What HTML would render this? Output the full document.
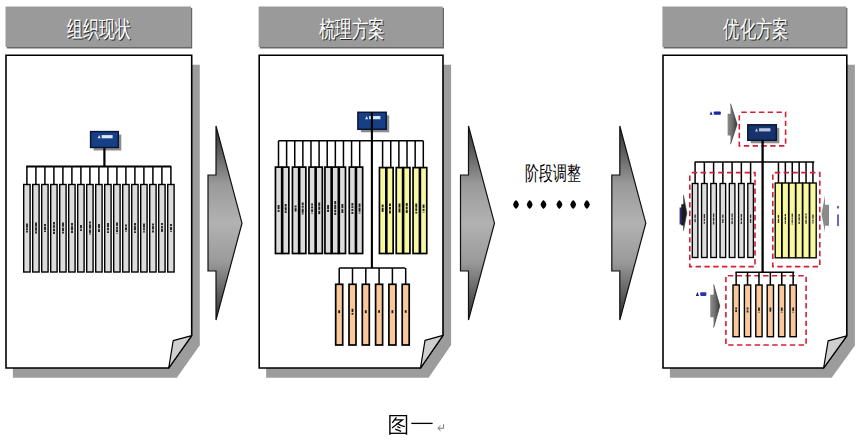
<!DOCTYPE html>
<html><head><meta charset="utf-8"><style>
html,body{margin:0;padding:0;background:#fff;}
body{width:864px;height:442px;overflow:hidden;}
svg{display:block;}
.ht{font-family:"Liberation Sans",sans-serif;font-size:23px;font-weight:500;fill:#fff;}
.ht.sh{fill:#2a2a2a;}
.mt{font-family:"Liberation Sans",sans-serif;font-size:20px;font-weight:500;fill:#000;}
</style></head><body>
<svg width="864" height="442" viewBox="0 0 864 442">
<defs>
<linearGradient id="ag" x1="0" y1="0" x2="0" y2="1">
<stop offset="0" stop-color="#2e2e2e"/><stop offset="0.3" stop-color="#9a9a9a"/><stop offset="0.5" stop-color="#b2b2b2"/><stop offset="0.7" stop-color="#9a9a9a"/><stop offset="1" stop-color="#2e2e2e"/>
</linearGradient>
<linearGradient id="sg" x1="0" y1="0" x2="1" y2="0">
<stop offset="0" stop-color="#8c8c8c"/><stop offset="0.5" stop-color="#6e6e6e"/><stop offset="1" stop-color="#3a3a3a"/>
</linearGradient>
</defs>
<rect x="6.7" y="7.9" width="185.5" height="40.6" fill="#666"/>
<rect x="5.5" y="6.5" width="185.5" height="40.5" fill="#9a9a9a"/>
<text class="ht sh" x="68" y="38.2" textLength="63.5" lengthAdjust="spacingAndGlyphs">组织现状</text>
<text class="ht" x="67" y="37.2" textLength="63.5" lengthAdjust="spacingAndGlyphs">组织现状</text>
<path d="M12.9,64.8 H199.8 V345.2 L176.8,377.7 H12.9 Z" fill="#9c9c9c"/>
<path d="M6,55.2 H191.7 V335.6 L168.7,368 H6 Z" fill="#fff" stroke="#000" stroke-width="1.6"/>
<path d="M168.7,368 L173.2,340.6 L191.7,335.6 Z" fill="#cfcfcf" stroke="#000" stroke-width="1.2" stroke-linejoin="round"/>
<rect x="93.6" y="134.6" width="27.7" height="15.9" fill="#8c8c8c"/>
<rect x="90.6" y="131.6" width="27.7" height="15.9" fill="#173f86" stroke="#0a1636" stroke-width="1.5"/>
<path d="M97.67,138.3 L99.17,135.1 L100.67,138.3 Z" fill="#dbe6f4"/>
<rect x="101.67" y="135.1" width="10.96" height="3.2" fill="#dbe6f4"/>
<line x1="104.4" y1="148" x2="104.4" y2="166.5" stroke="#000" stroke-width="2.2"/>
<line x1="26.3" y1="166.5" x2="171.3" y2="166.5" stroke="#000" stroke-width="1.8"/>
<line x1="26.9" y1="166.5" x2="26.9" y2="184.5" stroke="#000" stroke-width="1.5"/>
<line x1="35.9" y1="166.5" x2="35.9" y2="184.5" stroke="#000" stroke-width="1.5"/>
<line x1="44.9" y1="166.5" x2="44.9" y2="184.5" stroke="#000" stroke-width="1.5"/>
<line x1="53.9" y1="166.5" x2="53.9" y2="184.5" stroke="#000" stroke-width="1.5"/>
<line x1="62.9" y1="166.5" x2="62.9" y2="184.5" stroke="#000" stroke-width="1.5"/>
<line x1="71.9" y1="166.5" x2="71.9" y2="184.5" stroke="#000" stroke-width="1.5"/>
<line x1="80.9" y1="166.5" x2="80.9" y2="184.5" stroke="#000" stroke-width="1.5"/>
<line x1="89.9" y1="166.5" x2="89.9" y2="184.5" stroke="#000" stroke-width="1.5"/>
<line x1="98.9" y1="166.5" x2="98.9" y2="184.5" stroke="#000" stroke-width="1.5"/>
<line x1="107.9" y1="166.5" x2="107.9" y2="184.5" stroke="#000" stroke-width="1.5"/>
<line x1="116.9" y1="166.5" x2="116.9" y2="184.5" stroke="#000" stroke-width="1.5"/>
<line x1="125.9" y1="166.5" x2="125.9" y2="184.5" stroke="#000" stroke-width="1.5"/>
<line x1="134.9" y1="166.5" x2="134.9" y2="184.5" stroke="#000" stroke-width="1.5"/>
<line x1="143.9" y1="166.5" x2="143.9" y2="184.5" stroke="#000" stroke-width="1.5"/>
<line x1="152.9" y1="166.5" x2="152.9" y2="184.5" stroke="#000" stroke-width="1.5"/>
<line x1="161.9" y1="166.5" x2="161.9" y2="184.5" stroke="#000" stroke-width="1.5"/>
<line x1="170.9" y1="166.5" x2="170.9" y2="184.5" stroke="#000" stroke-width="1.5"/>
<rect x="23.7" y="184.5" width="6.4" height="87.5" fill="#dcdcdc" stroke="#000" stroke-width="1.4"/>
<rect x="26.05" y="223.5" width="1.9" height="4.2" fill="#262626"/>
<rect x="26.05" y="228.3" width="1.9" height="2" fill="#262626"/>
<rect x="26.05" y="230.9" width="1.9" height="1.6" fill="#262626"/>
<rect x="32.7" y="184.5" width="6.4" height="87.5" fill="#dcdcdc" stroke="#000" stroke-width="1.4"/>
<rect x="35.05" y="222.5" width="1.9" height="4.2" fill="#262626"/>
<rect x="35.05" y="227.3" width="1.9" height="3.4" fill="#262626"/>
<rect x="35.05" y="231.3" width="1.9" height="2.2" fill="#262626"/>
<rect x="41.7" y="184.5" width="6.4" height="87.5" fill="#dcdcdc" stroke="#000" stroke-width="1.4"/>
<rect x="44.05" y="224" width="1.9" height="2" fill="#262626"/>
<rect x="44.05" y="226.6" width="1.9" height="3.4" fill="#262626"/>
<rect x="44.05" y="230.6" width="1.9" height="1.4" fill="#262626"/>
<rect x="50.7" y="184.5" width="6.4" height="87.5" fill="#dcdcdc" stroke="#000" stroke-width="1.4"/>
<rect x="53.05" y="222" width="1.9" height="2.6" fill="#262626"/>
<rect x="53.05" y="225.2" width="1.9" height="2.6" fill="#262626"/>
<rect x="53.05" y="228.7" width="1.9" height="2.6" fill="#262626"/>
<rect x="53.05" y="231.9" width="1.9" height="2.1" fill="#262626"/>
<rect x="59.7" y="184.5" width="6.4" height="87.5" fill="#dcdcdc" stroke="#000" stroke-width="1.4"/>
<rect x="62.05" y="222.5" width="1.9" height="4.2" fill="#262626"/>
<rect x="62.05" y="227.6" width="1.9" height="3.4" fill="#262626"/>
<rect x="62.05" y="231.6" width="1.9" height="1.9" fill="#262626"/>
<rect x="68.7" y="184.5" width="6.4" height="87.5" fill="#dcdcdc" stroke="#000" stroke-width="1.4"/>
<rect x="71.05" y="223" width="1.9" height="2.6" fill="#262626"/>
<rect x="71.05" y="226.2" width="1.9" height="4.2" fill="#262626"/>
<rect x="71.05" y="231" width="1.9" height="2" fill="#262626"/>
<rect x="77.7" y="184.5" width="6.4" height="87.5" fill="#dcdcdc" stroke="#000" stroke-width="1.4"/>
<rect x="80.05" y="225" width="1.9" height="3.4" fill="#262626"/>
<rect x="80.05" y="229.3" width="1.9" height="1.7" fill="#262626"/>
<rect x="86.7" y="184.5" width="6.4" height="87.5" fill="#dcdcdc" stroke="#000" stroke-width="1.4"/>
<rect x="89.05" y="221.5" width="1.9" height="2" fill="#262626"/>
<rect x="89.05" y="224.4" width="1.9" height="4.2" fill="#262626"/>
<rect x="89.05" y="229.5" width="1.9" height="3.4" fill="#262626"/>
<rect x="89.05" y="233.5" width="1.9" height="1" fill="#262626"/>
<rect x="95.7" y="184.5" width="6.4" height="87.5" fill="#dcdcdc" stroke="#000" stroke-width="1.4"/>
<rect x="98.05" y="224" width="1.9" height="4.2" fill="#262626"/>
<rect x="98.05" y="229.1" width="1.9" height="2.9" fill="#262626"/>
<rect x="104.7" y="184.5" width="6.4" height="87.5" fill="#dcdcdc" stroke="#000" stroke-width="1.4"/>
<rect x="107.05" y="223" width="1.9" height="4.2" fill="#262626"/>
<rect x="107.05" y="227.8" width="1.9" height="2.6" fill="#262626"/>
<rect x="107.05" y="231.3" width="1.9" height="1.7" fill="#262626"/>
<rect x="113.7" y="184.5" width="6.4" height="87.5" fill="#dcdcdc" stroke="#000" stroke-width="1.4"/>
<rect x="116.05" y="222.5" width="1.9" height="3.4" fill="#262626"/>
<rect x="116.05" y="226.8" width="1.9" height="2" fill="#262626"/>
<rect x="116.05" y="229.4" width="1.9" height="2.6" fill="#262626"/>
<rect x="116.05" y="232.9" width="1.9" height="0.6" fill="#262626"/>
<rect x="122.7" y="184.5" width="6.4" height="87.5" fill="#dcdcdc" stroke="#000" stroke-width="1.4"/>
<rect x="125.05" y="224.5" width="1.9" height="2" fill="#262626"/>
<rect x="125.05" y="227.4" width="1.9" height="2.6" fill="#262626"/>
<rect x="125.05" y="230.6" width="1.9" height="0.9" fill="#262626"/>
<rect x="131.7" y="184.5" width="6.4" height="87.5" fill="#dcdcdc" stroke="#000" stroke-width="1.4"/>
<rect x="134.05" y="223" width="1.9" height="2.6" fill="#262626"/>
<rect x="134.05" y="226.2" width="1.9" height="4.2" fill="#262626"/>
<rect x="134.05" y="231.3" width="1.9" height="1.7" fill="#262626"/>
<rect x="140.7" y="184.5" width="6.4" height="87.5" fill="#dcdcdc" stroke="#000" stroke-width="1.4"/>
<rect x="143.05" y="223.5" width="1.9" height="4.2" fill="#262626"/>
<rect x="143.05" y="228.3" width="1.9" height="2" fill="#262626"/>
<rect x="143.05" y="231.2" width="1.9" height="1.3" fill="#262626"/>
<rect x="149.7" y="184.5" width="6.4" height="87.5" fill="#dcdcdc" stroke="#000" stroke-width="1.4"/>
<rect x="152.05" y="223.5" width="1.9" height="2" fill="#262626"/>
<rect x="152.05" y="226.1" width="1.9" height="3.4" fill="#262626"/>
<rect x="152.05" y="230.4" width="1.9" height="2.1" fill="#262626"/>
<rect x="158.7" y="184.5" width="6.4" height="87.5" fill="#dcdcdc" stroke="#000" stroke-width="1.4"/>
<rect x="161.05" y="223" width="1.9" height="2" fill="#262626"/>
<rect x="161.05" y="225.9" width="1.9" height="2" fill="#262626"/>
<rect x="161.05" y="228.5" width="1.9" height="3.4" fill="#262626"/>
<rect x="167.7" y="184.5" width="6.4" height="87.5" fill="#dcdcdc" stroke="#000" stroke-width="1.4"/>
<rect x="170.05" y="224" width="1.9" height="2" fill="#262626"/>
<rect x="170.05" y="226.9" width="1.9" height="3.4" fill="#262626"/>
<rect x="170.05" y="231.2" width="1.9" height="0.8" fill="#262626"/>
<path d="M208,175 H216 V126 L242,223.2 L216,320 V271 H208 Z" fill="url(#ag)" stroke="#111" stroke-width="1.2" stroke-linejoin="miter"/>
<path d="M460.5,175 H468.5 V126 L494.5,223.2 L468.5,320 V271 H460.5 Z" fill="url(#ag)" stroke="#111" stroke-width="1.2" stroke-linejoin="miter"/>
<path d="M611.8,175 H619.8 V126 L645.8,223.2 L619.8,320 V271 H611.8 Z" fill="url(#ag)" stroke="#111" stroke-width="1.2" stroke-linejoin="miter"/>
<rect x="259.8" y="7.9" width="184.2" height="40.6" fill="#666"/>
<rect x="258.6" y="6.5" width="184.2" height="40.5" fill="#9a9a9a"/>
<text class="ht sh" x="319.6" y="38.2" textLength="66" lengthAdjust="spacingAndGlyphs">梳理方案</text>
<text class="ht" x="318.6" y="37.2" textLength="66" lengthAdjust="spacingAndGlyphs">梳理方案</text>
<path d="M266.1,64.8 H451.1 V344.9 L428.6,377.7 H266.1 Z" fill="#9c9c9c"/>
<path d="M259.2,55.2 H443 V335.3 L420.5,368 H259.2 Z" fill="#fff" stroke="#000" stroke-width="1.6"/>
<path d="M420.5,368 L425,340.3 L443,335.3 Z" fill="#cfcfcf" stroke="#000" stroke-width="1.2" stroke-linejoin="round"/>
<rect x="360.9" y="115.3" width="28.3" height="17" fill="#8c8c8c"/>
<rect x="357.9" y="112.3" width="28.3" height="17" fill="#173f86" stroke="#0a1636" stroke-width="1.5"/>
<path d="M365.11,119.24 L366.61,116.04 L368.11,119.24 Z" fill="#dbe6f4"/>
<rect x="369.11" y="116.04" width="11.28" height="3.2" fill="#dbe6f4"/>
<line x1="371.9" y1="112" x2="371.9" y2="268" stroke="#000" stroke-width="2.1"/>
<line x1="278.5" y1="140.8" x2="423.3" y2="140.8" stroke="#000" stroke-width="1.5"/>
<line x1="278.5" y1="140.8" x2="278.5" y2="167.1" stroke="#000" stroke-width="1.5"/>
<line x1="286.62" y1="140.8" x2="286.62" y2="167.1" stroke="#000" stroke-width="1.5"/>
<line x1="294.74" y1="140.8" x2="294.74" y2="167.1" stroke="#000" stroke-width="1.5"/>
<line x1="302.86" y1="140.8" x2="302.86" y2="167.1" stroke="#000" stroke-width="1.5"/>
<line x1="310.98" y1="140.8" x2="310.98" y2="167.1" stroke="#000" stroke-width="1.5"/>
<line x1="319.1" y1="140.8" x2="319.1" y2="167.1" stroke="#000" stroke-width="1.5"/>
<line x1="327.22" y1="140.8" x2="327.22" y2="167.1" stroke="#000" stroke-width="1.5"/>
<line x1="335.34" y1="140.8" x2="335.34" y2="167.1" stroke="#000" stroke-width="1.5"/>
<line x1="343.46" y1="140.8" x2="343.46" y2="167.1" stroke="#000" stroke-width="1.5"/>
<line x1="351.58" y1="140.8" x2="351.58" y2="167.1" stroke="#000" stroke-width="1.5"/>
<line x1="359.7" y1="140.8" x2="359.7" y2="167.1" stroke="#000" stroke-width="1.5"/>
<line x1="382.6" y1="140.8" x2="382.6" y2="167.3" stroke="#000" stroke-width="1.5"/>
<line x1="390.74" y1="140.8" x2="390.74" y2="167.3" stroke="#000" stroke-width="1.5"/>
<line x1="398.88" y1="140.8" x2="398.88" y2="167.3" stroke="#000" stroke-width="1.5"/>
<line x1="407.02" y1="140.8" x2="407.02" y2="167.3" stroke="#000" stroke-width="1.5"/>
<line x1="415.16" y1="140.8" x2="415.16" y2="167.3" stroke="#000" stroke-width="1.5"/>
<line x1="423.3" y1="140.8" x2="423.3" y2="167.3" stroke="#000" stroke-width="1.5"/>
<rect x="275.45" y="167.1" width="6.25" height="86.4" fill="#dcdcdc" stroke="#000" stroke-width="1.7"/>
<rect x="277.62" y="205" width="1.9" height="4.2" fill="#262626"/>
<rect x="277.62" y="210.1" width="1.9" height="1.9" fill="#262626"/>
<rect x="282.6" y="167.1" width="6.25" height="86.4" fill="#dcdcdc" stroke="#000" stroke-width="1.7"/>
<rect x="284.77" y="204" width="1.9" height="2.6" fill="#262626"/>
<rect x="284.77" y="207.2" width="1.9" height="3.4" fill="#262626"/>
<rect x="284.77" y="211.2" width="1.9" height="1.8" fill="#262626"/>
<rect x="292.45" y="167.1" width="6.25" height="86.4" fill="#dcdcdc" stroke="#000" stroke-width="1.7"/>
<rect x="294.62" y="205.5" width="1.9" height="2" fill="#262626"/>
<rect x="294.62" y="208.1" width="1.9" height="3.4" fill="#262626"/>
<rect x="299.6" y="167.1" width="6.25" height="86.4" fill="#dcdcdc" stroke="#000" stroke-width="1.7"/>
<rect x="301.77" y="202.5" width="1.9" height="2.6" fill="#262626"/>
<rect x="301.77" y="205.7" width="1.9" height="2" fill="#262626"/>
<rect x="301.77" y="208.6" width="1.9" height="4.2" fill="#262626"/>
<rect x="301.77" y="213.4" width="1.9" height="1.1" fill="#262626"/>
<rect x="308.95" y="167.1" width="6.25" height="86.4" fill="#dcdcdc" stroke="#000" stroke-width="1.7"/>
<rect x="311.12" y="203.5" width="1.9" height="2" fill="#262626"/>
<rect x="311.12" y="206.4" width="1.9" height="2" fill="#262626"/>
<rect x="311.12" y="209.3" width="1.9" height="2.6" fill="#262626"/>
<rect x="311.12" y="212.8" width="1.9" height="0.7" fill="#262626"/>
<rect x="316.1" y="167.1" width="6.25" height="86.4" fill="#dcdcdc" stroke="#000" stroke-width="1.7"/>
<rect x="318.27" y="202.5" width="1.9" height="3.4" fill="#262626"/>
<rect x="318.27" y="206.5" width="1.9" height="3.4" fill="#262626"/>
<rect x="318.27" y="210.8" width="1.9" height="3.4" fill="#262626"/>
<rect x="324.95" y="167.1" width="6.25" height="86.4" fill="#dcdcdc" stroke="#000" stroke-width="1.7"/>
<rect x="327.12" y="205" width="1.9" height="4.2" fill="#262626"/>
<rect x="327.12" y="209.8" width="1.9" height="2.2" fill="#262626"/>
<rect x="332.1" y="167.1" width="6.25" height="86.4" fill="#dcdcdc" stroke="#000" stroke-width="1.7"/>
<rect x="334.27" y="201" width="1.9" height="3.4" fill="#262626"/>
<rect x="334.27" y="205" width="1.9" height="4.2" fill="#262626"/>
<rect x="334.27" y="209.8" width="1.9" height="2.6" fill="#262626"/>
<rect x="334.27" y="213" width="1.9" height="2" fill="#262626"/>
<rect x="339.25" y="167.1" width="6.25" height="86.4" fill="#dcdcdc" stroke="#000" stroke-width="1.7"/>
<rect x="341.43" y="204" width="1.9" height="4.2" fill="#262626"/>
<rect x="341.43" y="209.1" width="1.9" height="3.9" fill="#262626"/>
<rect x="349.25" y="167.1" width="6.25" height="86.4" fill="#dcdcdc" stroke="#000" stroke-width="1.7"/>
<rect x="351.43" y="203" width="1.9" height="2.6" fill="#262626"/>
<rect x="351.43" y="206.2" width="1.9" height="2" fill="#262626"/>
<rect x="351.43" y="209.1" width="1.9" height="2" fill="#262626"/>
<rect x="351.43" y="212" width="1.9" height="2" fill="#262626"/>
<rect x="356.4" y="167.1" width="6.25" height="86.4" fill="#dcdcdc" stroke="#000" stroke-width="1.7"/>
<rect x="358.57" y="203.5" width="1.9" height="3.4" fill="#262626"/>
<rect x="358.57" y="207.5" width="1.9" height="4.2" fill="#262626"/>
<rect x="358.57" y="212.6" width="1.9" height="0.9" fill="#262626"/>
<rect x="379.45" y="167.6" width="6.4" height="85.9" fill="#f8f89e" stroke="#000" stroke-width="1.7"/>
<rect x="381.7" y="204.5" width="1.9" height="2.6" fill="#262626"/>
<rect x="381.7" y="207.7" width="1.9" height="4.2" fill="#262626"/>
<rect x="386.75" y="167.6" width="6.4" height="85.9" fill="#f8f89e" stroke="#000" stroke-width="1.7"/>
<rect x="389" y="203.5" width="1.9" height="2.6" fill="#262626"/>
<rect x="389" y="207" width="1.9" height="2.6" fill="#262626"/>
<rect x="389" y="210.5" width="1.9" height="3" fill="#262626"/>
<rect x="396.25" y="167.6" width="6.4" height="85.9" fill="#f8f89e" stroke="#000" stroke-width="1.7"/>
<rect x="398.5" y="203.5" width="1.9" height="4.2" fill="#262626"/>
<rect x="398.5" y="208.3" width="1.9" height="4.2" fill="#262626"/>
<rect x="403.55" y="167.6" width="6.4" height="85.9" fill="#f8f89e" stroke="#000" stroke-width="1.7"/>
<rect x="405.8" y="203" width="1.9" height="3.4" fill="#262626"/>
<rect x="405.8" y="207" width="1.9" height="2" fill="#262626"/>
<rect x="405.8" y="209.6" width="1.9" height="3.4" fill="#262626"/>
<rect x="413.05" y="167.6" width="6.4" height="85.9" fill="#f8f89e" stroke="#000" stroke-width="1.7"/>
<rect x="415.3" y="203.5" width="1.9" height="4.2" fill="#262626"/>
<rect x="415.3" y="208.3" width="1.9" height="2.6" fill="#262626"/>
<rect x="415.3" y="211.8" width="1.9" height="1.7" fill="#262626"/>
<rect x="420.35" y="167.6" width="6.4" height="85.9" fill="#f8f89e" stroke="#000" stroke-width="1.7"/>
<rect x="422.6" y="204.5" width="1.9" height="3.4" fill="#262626"/>
<rect x="422.6" y="208.8" width="1.9" height="2" fill="#262626"/>
<rect x="422.6" y="211.7" width="1.9" height="0.8" fill="#262626"/>
<line x1="339.2" y1="268" x2="405.2" y2="268" stroke="#000" stroke-width="1.5"/>
<line x1="339.2" y1="268" x2="339.2" y2="284.3" stroke="#000" stroke-width="1.5"/>
<rect x="335.7" y="284.3" width="7" height="60.7" fill="#f9c99c" stroke="#000" stroke-width="1.7"/>
<rect x="338.3" y="310.2" width="1.8" height="3" fill="#1a1a1a"/>
<line x1="352.5" y1="268" x2="352.5" y2="284.3" stroke="#000" stroke-width="1.5"/>
<rect x="349" y="284.3" width="7" height="60.7" fill="#f9c99c" stroke="#000" stroke-width="1.7"/>
<rect x="351.6" y="308.7" width="1.8" height="3.4" fill="#1a1a1a"/>
<rect x="351.6" y="313" width="1.8" height="1.7" fill="#1a1a1a"/>
<line x1="365.8" y1="268" x2="365.8" y2="284.3" stroke="#000" stroke-width="1.5"/>
<rect x="362.3" y="284.3" width="7" height="60.7" fill="#f9c99c" stroke="#000" stroke-width="1.7"/>
<rect x="364.9" y="310.2" width="1.8" height="3" fill="#1a1a1a"/>
<line x1="379.1" y1="268" x2="379.1" y2="284.3" stroke="#000" stroke-width="1.5"/>
<rect x="375.6" y="284.3" width="7" height="60.7" fill="#f9c99c" stroke="#000" stroke-width="1.7"/>
<rect x="378.2" y="310.2" width="1.8" height="2.6" fill="#1a1a1a"/>
<line x1="392.4" y1="268" x2="392.4" y2="284.3" stroke="#000" stroke-width="1.5"/>
<rect x="388.9" y="284.3" width="7" height="60.7" fill="#f9c99c" stroke="#000" stroke-width="1.7"/>
<rect x="391.5" y="310.2" width="1.8" height="3" fill="#1a1a1a"/>
<line x1="405.7" y1="268" x2="405.7" y2="284.3" stroke="#000" stroke-width="1.5"/>
<rect x="402.2" y="284.3" width="7" height="60.7" fill="#f9c99c" stroke="#000" stroke-width="1.7"/>
<rect x="404.8" y="310.2" width="1.8" height="2.6" fill="#1a1a1a"/>
<text class="mt" x="525.3" y="179.6" textLength="55.6" lengthAdjust="spacingAndGlyphs">阶段调整</text>
<path d="M516,200.1 Q518.6,202 518.9,204.6 Q518.6,207.2 516,209.1 Q513.4,207.2 513.1,204.6 Q513.4,202 516,200.1 Z" fill="#000"/>
<path d="M529.7,200.1 Q532.3,202 532.6,204.6 Q532.3,207.2 529.7,209.1 Q527.1,207.2 526.8,204.6 Q527.1,202 529.7,200.1 Z" fill="#000"/>
<path d="M543.5,200.1 Q546.1,202 546.4,204.6 Q546.1,207.2 543.5,209.1 Q540.9,207.2 540.6,204.6 Q540.9,202 543.5,200.1 Z" fill="#000"/>
<path d="M559.4,200.1 Q562,202 562.3,204.6 Q562,207.2 559.4,209.1 Q556.8,207.2 556.5,204.6 Q556.8,202 559.4,200.1 Z" fill="#000"/>
<path d="M573.2,200.1 Q575.8,202 576.1,204.6 Q575.8,207.2 573.2,209.1 Q570.6,207.2 570.3,204.6 Q570.6,202 573.2,200.1 Z" fill="#000"/>
<path d="M586.9,200.1 Q589.5,202 589.8,204.6 Q589.5,207.2 586.9,209.1 Q584.3,207.2 584,204.6 Q584.3,202 586.9,200.1 Z" fill="#000"/>
<rect x="663.6" y="7.9" width="183.8" height="40.6" fill="#666"/>
<rect x="662.4" y="6.5" width="183.8" height="40.5" fill="#9a9a9a"/>
<text class="ht sh" x="724.4" y="38.2" textLength="65" lengthAdjust="spacingAndGlyphs">优化方案</text>
<text class="ht" x="723.4" y="37.2" textLength="65" lengthAdjust="spacingAndGlyphs">优化方案</text>
<path d="M669.9,64.8 H854.9 V345.4 L831.7,377.7 H669.9 Z" fill="#9c9c9c"/>
<path d="M663,55.2 H846.8 V335.8 L823.6,368 H663 Z" fill="#fff" stroke="#000" stroke-width="1.6"/>
<path d="M823.6,368 L828.1,340.8 L846.8,335.8 Z" fill="#cfcfcf" stroke="#000" stroke-width="1.2" stroke-linejoin="round"/>
<rect x="739.3" y="112.2" width="46.3" height="33.7" fill="none" stroke="#d41f36" stroke-width="1.6" stroke-dasharray="5.4 3.4" stroke-dashoffset="-2"/>
<rect x="750.8" y="127.8" width="28.5" height="15.5" fill="#8c8c8c"/>
<rect x="747.8" y="124.8" width="28.5" height="15.5" fill="#16336e" stroke="#0a1636" stroke-width="1.5"/>
<path d="M755.05,131.41 L756.55,128.21 L758.05,131.41 Z" fill="#b9c6de"/>
<rect x="759.05" y="128.21" width="11.39" height="3.2" fill="#b9c6de"/>
<line x1="762.6" y1="140.8" x2="762.6" y2="272.2" stroke="#000" stroke-width="2.3"/>
<line x1="694.8" y1="162" x2="814.3" y2="162" stroke="#000" stroke-width="1.6"/>
<line x1="695.1" y1="162" x2="695.1" y2="183.5" stroke="#000" stroke-width="1.5"/>
<line x1="704.35" y1="162" x2="704.35" y2="183.5" stroke="#000" stroke-width="1.5"/>
<line x1="713.6" y1="162" x2="713.6" y2="183.5" stroke="#000" stroke-width="1.5"/>
<line x1="722.85" y1="162" x2="722.85" y2="183.5" stroke="#000" stroke-width="1.5"/>
<line x1="732.1" y1="162" x2="732.1" y2="183.5" stroke="#000" stroke-width="1.5"/>
<line x1="741.35" y1="162" x2="741.35" y2="183.5" stroke="#000" stroke-width="1.5"/>
<line x1="750.6" y1="162" x2="750.6" y2="183.5" stroke="#000" stroke-width="1.5"/>
<line x1="778.45" y1="162" x2="778.45" y2="183" stroke="#000" stroke-width="1.5"/>
<line x1="785.35" y1="162" x2="785.35" y2="183" stroke="#000" stroke-width="1.5"/>
<line x1="792.25" y1="162" x2="792.25" y2="183" stroke="#000" stroke-width="1.5"/>
<line x1="799.15" y1="162" x2="799.15" y2="183" stroke="#000" stroke-width="1.5"/>
<line x1="806.05" y1="162" x2="806.05" y2="183" stroke="#000" stroke-width="1.5"/>
<line x1="812.95" y1="162" x2="812.95" y2="183" stroke="#000" stroke-width="1.5"/>
<rect x="689.8" y="172.6" width="65.2" height="94" fill="none" stroke="#d41f36" stroke-width="1.6" stroke-dasharray="5.4 3.4" stroke-dashoffset="-2"/>
<rect x="772.8" y="172.6" width="47" height="94" fill="none" stroke="#d41f36" stroke-width="1.6" stroke-dasharray="5.4 3.4" stroke-dashoffset="-2"/>
<rect x="692.3" y="183.5" width="5.6" height="74" fill="#dedede" stroke="#000" stroke-width="1.35"/>
<rect x="694.45" y="214.5" width="1.3" height="3.4" fill="#333"/>
<rect x="694.45" y="218.8" width="1.3" height="3.4" fill="#333"/>
<rect x="701.55" y="183.5" width="5.6" height="74" fill="#dedede" stroke="#000" stroke-width="1.35"/>
<rect x="703.7" y="214" width="1.3" height="4.2" fill="#333"/>
<rect x="703.7" y="218.8" width="1.3" height="2" fill="#333"/>
<rect x="703.7" y="221.7" width="1.3" height="2" fill="#333"/>
<rect x="710.8" y="183.5" width="5.6" height="74" fill="#dedede" stroke="#000" stroke-width="1.35"/>
<rect x="712.95" y="213.5" width="1.3" height="3.4" fill="#333"/>
<rect x="712.95" y="217.5" width="1.3" height="3.4" fill="#333"/>
<rect x="712.95" y="221.5" width="1.3" height="3" fill="#333"/>
<rect x="720.05" y="183.5" width="5.6" height="74" fill="#dedede" stroke="#000" stroke-width="1.35"/>
<rect x="722.2" y="214.5" width="1.3" height="3.4" fill="#333"/>
<rect x="722.2" y="218.8" width="1.3" height="4.2" fill="#333"/>
<rect x="729.3" y="183.5" width="5.6" height="74" fill="#dedede" stroke="#000" stroke-width="1.35"/>
<rect x="731.45" y="213.5" width="1.3" height="3.4" fill="#333"/>
<rect x="731.45" y="217.5" width="1.3" height="2.6" fill="#333"/>
<rect x="731.45" y="220.7" width="1.3" height="3.4" fill="#333"/>
<rect x="738.55" y="183.5" width="5.6" height="74" fill="#dedede" stroke="#000" stroke-width="1.35"/>
<rect x="740.7" y="214" width="1.3" height="3.4" fill="#333"/>
<rect x="740.7" y="218" width="1.3" height="2.6" fill="#333"/>
<rect x="740.7" y="221.5" width="1.3" height="2.5" fill="#333"/>
<rect x="747.8" y="183.5" width="5.6" height="74" fill="#dedede" stroke="#000" stroke-width="1.35"/>
<rect x="749.95" y="214.5" width="1.3" height="3.4" fill="#333"/>
<rect x="749.95" y="218.8" width="1.3" height="4.2" fill="#333"/>
<rect x="775.2" y="183" width="6.5" height="74.8" fill="#f8f89e" stroke="#000" stroke-width="1.35"/>
<rect x="777.8" y="215" width="1.3" height="3.4" fill="#333"/>
<rect x="777.8" y="219" width="1.3" height="4" fill="#333"/>
<rect x="782.1" y="183" width="6.5" height="74.8" fill="#f8f89e" stroke="#000" stroke-width="1.35"/>
<rect x="784.7" y="214" width="1.3" height="2" fill="#333"/>
<rect x="784.7" y="216.6" width="1.3" height="3.4" fill="#333"/>
<rect x="784.7" y="220.6" width="1.3" height="2" fill="#333"/>
<rect x="784.7" y="223.2" width="1.3" height="0.8" fill="#333"/>
<rect x="789" y="183" width="6.5" height="74.8" fill="#f8f89e" stroke="#000" stroke-width="1.35"/>
<rect x="791.6" y="213.5" width="1.3" height="3.4" fill="#333"/>
<rect x="791.6" y="217.5" width="1.3" height="2" fill="#333"/>
<rect x="791.6" y="220.1" width="1.3" height="2.6" fill="#333"/>
<rect x="791.6" y="223.6" width="1.3" height="0.9" fill="#333"/>
<rect x="795.9" y="183" width="6.5" height="74.8" fill="#f8f89e" stroke="#000" stroke-width="1.35"/>
<rect x="798.5" y="214" width="1.3" height="2.6" fill="#333"/>
<rect x="798.5" y="217.2" width="1.3" height="3.4" fill="#333"/>
<rect x="798.5" y="221.5" width="1.3" height="2.5" fill="#333"/>
<rect x="802.8" y="183" width="6.5" height="74.8" fill="#f8f89e" stroke="#000" stroke-width="1.35"/>
<rect x="805.4" y="213.5" width="1.3" height="2" fill="#333"/>
<rect x="805.4" y="216.1" width="1.3" height="2.6" fill="#333"/>
<rect x="805.4" y="219.6" width="1.3" height="4.2" fill="#333"/>
<rect x="809.7" y="183" width="6.5" height="74.8" fill="#f8f89e" stroke="#000" stroke-width="1.35"/>
<rect x="812.3" y="214.5" width="1.3" height="4.2" fill="#333"/>
<rect x="812.3" y="219.6" width="1.3" height="2" fill="#333"/>
<rect x="812.3" y="222.2" width="1.3" height="1.3" fill="#333"/>
<line x1="735.5" y1="272.2" x2="794.2" y2="272.2" stroke="#000" stroke-width="1.6"/>
<rect x="725.9" y="275.7" width="80.2" height="69.3" fill="none" stroke="#d41f36" stroke-width="1.6" stroke-dasharray="5.4 3.4" stroke-dashoffset="-2"/>
<line x1="736.15" y1="272.2" x2="736.15" y2="285" stroke="#000" stroke-width="1.5"/>
<rect x="733" y="285" width="6.3" height="51.7" fill="#f9c99c" stroke="#000" stroke-width="1.4"/>
<rect x="735.25" y="307.5" width="1.8" height="2" fill="#2a2a2a"/>
<rect x="735.25" y="310.1" width="1.8" height="2" fill="#2a2a2a"/>
<line x1="747.55" y1="272.2" x2="747.55" y2="285" stroke="#000" stroke-width="1.5"/>
<rect x="744.4" y="285" width="6.3" height="51.7" fill="#f9c99c" stroke="#000" stroke-width="1.4"/>
<rect x="746.65" y="307.5" width="1.8" height="2" fill="#2a2a2a"/>
<rect x="746.65" y="310.4" width="1.8" height="2.1" fill="#2a2a2a"/>
<line x1="758.95" y1="272.2" x2="758.95" y2="285" stroke="#000" stroke-width="1.5"/>
<rect x="755.8" y="285" width="6.3" height="51.7" fill="#f9c99c" stroke="#000" stroke-width="1.4"/>
<rect x="758.05" y="307.5" width="1.8" height="3.4" fill="#2a2a2a"/>
<rect x="758.05" y="311.8" width="1.8" height="0.7" fill="#2a2a2a"/>
<line x1="770.35" y1="272.2" x2="770.35" y2="285" stroke="#000" stroke-width="1.5"/>
<rect x="767.2" y="285" width="6.3" height="51.7" fill="#f9c99c" stroke="#000" stroke-width="1.4"/>
<rect x="769.45" y="307.5" width="1.8" height="4.2" fill="#2a2a2a"/>
<line x1="781.75" y1="272.2" x2="781.75" y2="285" stroke="#000" stroke-width="1.5"/>
<rect x="778.6" y="285" width="6.3" height="51.7" fill="#f9c99c" stroke="#000" stroke-width="1.4"/>
<rect x="780.85" y="307.5" width="1.8" height="3.4" fill="#2a2a2a"/>
<rect x="780.85" y="311.8" width="1.8" height="0.7" fill="#2a2a2a"/>
<line x1="793.15" y1="272.2" x2="793.15" y2="285" stroke="#000" stroke-width="1.5"/>
<rect x="790" y="285" width="6.3" height="51.7" fill="#f9c99c" stroke="#000" stroke-width="1.4"/>
<rect x="792.25" y="307.5" width="1.8" height="3.4" fill="#2a2a2a"/>
<rect x="792.25" y="311.8" width="1.8" height="0.7" fill="#2a2a2a"/>
<path d="M727.6,113.7 H730.5 V103.7 L737.1,124.3 L730.5,144.2 V135.5 H727.6 Z" fill="url(#sg)"/>
<path d="M730.5,103.7 L737.1,124.3 L730.5,144.2" fill="none" stroke="#333" stroke-width="0.7"/>
<path d="M710.2,294.7 H713.6 V284.5 L719.8,306 L713.6,327.5 V317.3 H710.2 Z" fill="url(#sg)"/>
<path d="M713.6,284.5 L719.8,306 L713.6,327.5" fill="none" stroke="#333" stroke-width="0.7"/>
<rect x="679.6" y="207.5" width="2.3" height="17" fill="#262c88"/>
<path d="M681.3,204.3 H683.4 V195 L686.8,213 L683.4,230.7 V225.6 H681.3 Z" fill="#1b1b22"/>
<path d="M683.4,195 L686.8,213 L683.4,230.7" fill="none" stroke="#333" stroke-width="0.7"/>
<path d="M829,204.7 H825 V195.2 L821.5,214 L825,232.5 V225.7 H829 Z" fill="#8a8a8a"/>
<path d="M709.6,114.8 L711,111.2 L712.6,114.8 Z" fill="#16208c"/>
<rect x="713.8" y="111.5" width="7" height="3.2" rx="0.8" fill="#1526a8"/>
<path d="M695.8,296 L697.4,291.8 L699,296 Z" fill="#1c2478"/>
<rect x="700.2" y="292.3" width="6.2" height="3.6" rx="0.8" fill="#2536b0"/>
<rect x="837.2" y="206" width="1.6" height="2.6" rx="0.6" fill="#3030a0"/>
<rect x="837.2" y="214.2" width="1.6" height="12" rx="0.6" fill="#4040c0"/>
<g stroke="#000" fill="none" stroke-linecap="butt"><path d="M389.9,434.8 V415.6 H406.5 V434.8" stroke-width="1.4"/><path d="M389.9,433.3 H406.5" stroke-width="1.3"/><path d="M396.4,417.3 L392.3,422.9" stroke-width="1.3"/><path d="M394.6,419.8 H402.6 L392,427.9" stroke-width="1.2"/><path d="M396.6,423 Q399.5,425.3 404.8,426.7" stroke-width="1.3"/><path d="M397.3,426.6 L400.4,428" stroke-width="1.2"/><path d="M395.2,429.2 L401.2,431.4" stroke-width="1.3"/><path d="M411.3,423.4 H432.6" stroke-width="1.3"/></g>
<g stroke="#777" fill="none" stroke-width="1"><path d="M443.6,424.2 V428.3 H438.2"/><path d="M440.6,425.8 L437.8,428.3 L440.6,430.8"/></g>
</svg>
</body></html>
